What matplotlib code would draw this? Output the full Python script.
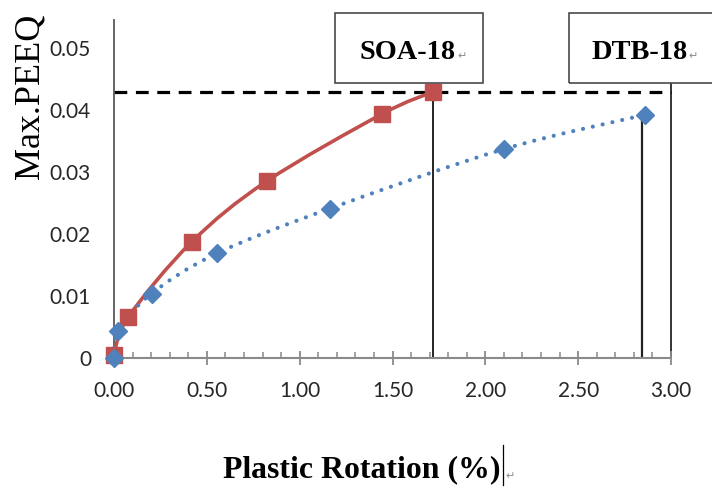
import numpy as np
import matplotlib
matplotlib.use("Agg")
import matplotlib.pyplot as plt
from matplotlib.path import Path
from matplotlib.patches import PathPatch, Rectangle
from matplotlib.lines import Line2D

# ---------------- data ----------------
soa_x = [0.0, 0.077, 0.418, 0.822, 1.441, 1.716]
soa_y = [0.0005, 0.0066, 0.0187, 0.0285, 0.0393, 0.0429]
dtb_x = [0.0, 0.023, 0.203, 0.556, 1.163, 2.102, 2.858]
dtb_y = [0.0, 0.0044, 0.0104, 0.0169, 0.0241, 0.0337, 0.0392]
limit_peeq = 0.0429          # horizontal dashed reference level
soa_limit_x = 1.716          # vertical guide for SOA-18
dtb_limit_x = 2.845          # vertical guide for DTB-18
right_guide_x = 3.0
right_guide_top = 0.0442
xticks = [0.0, 0.5, 1.0, 1.5, 2.0, 2.5, 3.0]
xticklabels = ["0.00", "0.50", "1.00", "1.50", "2.00", "2.50", "3.00"]
yticks = [0.0, 0.01, 0.02, 0.03, 0.04, 0.05]
yticklabels = ["0", "0.01", "0.02", "0.03", "0.04", "0.05"]
xlabel = "Plastic Rotation (%)"
ylabel = "Max.PEEQ"
box_labels = ["SOA-18", "DTB-18"]

RED = "#C0504D"
BLUE = "#4F81BD"
W, H = 712, 488


def fx(px):
    return px / W


def fy(py):
    return 1 - py / H


def smooth_path(xs, ys):
    """Excel-like smoothed line: cubic Bezier segments (Catmull-Rom tangents)."""
    P = np.column_stack([xs, ys])
    n = len(P)
    verts = [P[0]]
    codes = [Path.MOVETO]
    for i in range(n - 1):
        p0 = P[i - 1] if i > 0 else P[i]
        p1 = P[i]
        p2 = P[i + 1]
        p3 = P[i + 2] if i + 2 < n else P[i + 1]
        c1 = p1 + (p2 - p0) / 6.0
        c2 = p2 - (p3 - p1) / 6.0
        verts += [c1, c2, p2]
        codes += [Path.CURVE4] * 3
    return Path(np.array(verts), codes)


fig = plt.figure(figsize=(W / 100, H / 100), dpi=100)
ax = fig.add_axes([fx(114), fy(358), fx(671) - fx(114), (358 - 20) / H])
ax.set_xlim(0, 3.0)
ax.set_ylim(0, 0.0545)

for s in ["top", "right"]:
    ax.spines[s].set_visible(False)
ax.spines["left"].set_color("#595959")
ax.spines["left"].set_linewidth(1.3)
ax.spines["bottom"].set_color("#8a8a8a")
ax.spines["bottom"].set_linewidth(1.5)

ax.set_xticks(xticks)
ax.set_xticklabels(xticklabels)
ax.set_xticks(np.arange(0, 3.001, 0.1), minor=True)
ax.set_yticks(yticks)
ax.set_yticklabels(yticklabels)
ax.tick_params(axis="x", which="major", direction="inout", length=10, width=1.3,
               color="#8a8a8a", pad=11.5, labelsize=15)
ax.tick_params(axis="x", which="minor", direction="in", length=4.3, width=1.1,
               color="#8a8a8a")
ax.tick_params(axis="y", which="both", length=0, pad=16.5, labelsize=15)
for lab in ax.get_xticklabels() + ax.get_yticklabels():
    lab.set_fontfamily("Lato")
    lab.set_color("#262626")

# dashed reference level
ax.plot([0, right_guide_x], [limit_peeq, limit_peeq], color="black", lw=2.3,
        linestyle=(0, (4, 2.7)), zorder=2, clip_on=False)

# vertical guides
ax.plot([soa_limit_x, soa_limit_x], [0, limit_peeq], color="black", lw=1.2, zorder=1.5)
ax.plot([dtb_limit_x, dtb_limit_x], [0, dtb_y[-1]], color="#222222", lw=1.6, zorder=1.5)
ax.plot([right_guide_x, right_guide_x], [0, right_guide_top], color="black", lw=1.1,
        zorder=1.5, clip_on=False)

# smoothed lines
red_patch = PathPatch(smooth_path(soa_x, soa_y), fill=False, edgecolor=RED, lw=2.6,
                      zorder=3, clip_on=False)
ax.add_patch(red_patch)
blue_patch = PathPatch(smooth_path(dtb_x, dtb_y), fill=False, edgecolor=BLUE, lw=3.0,
                       linestyle=(0, (0.01, 2.4)), zorder=3.1, clip_on=False)
blue_patch.set_capstyle("round")
ax.add_patch(blue_patch)

# markers
ax.plot(soa_x, soa_y, linestyle="none", marker="s", ms=12, color=RED, zorder=4,
        clip_on=False)
ax.plot(dtb_x, dtb_y, linestyle="none", marker="D", ms=9.5, color=BLUE, zorder=5,
        clip_on=False)

# label boxes
boxes = [(335, 483, 408), (569, 716, 639.5)]
for (x0, x1, xc), lab in zip(boxes, box_labels):
    fig.add_artist(Rectangle((fx(x0), fy(83)), fx(x1) - fx(x0), (83 - 13) / H,
                             transform=fig.transFigure, fill=False,
                             edgecolor="#3a3a3a", lw=1.1, clip_on=False))
    fig.text(fx(xc), fy(59), lab, ha="center", va="baseline",
             family="Liberation Serif", fontweight="bold", fontsize=20.4,
             color="black")
    fig.text(fx(xc + 49), fy(59), "\u21b5", ha="left", va="baseline",
             family="DejaVu Sans", fontsize=8, color="#8c8c8c")

# axis titles
fig.text(fx(223), fy(477), xlabel, ha="left", va="baseline",
         family="Liberation Serif", fontweight="bold", fontsize=22.9, color="black")
fig.add_artist(Line2D([fx(503), fx(503)], [fy(485), fy(445)],
                      transform=fig.transFigure, color="black", lw=0.9))
fig.text(fx(505), fy(479), "\u21b5", ha="left", va="baseline",
         family="DejaVu Sans", fontsize=8, color="#8c8c8c")

fig.text(fx(30), fy(96.5), ylabel, rotation=90, ha="center", va="center",
         family="Liberation Serif", fontsize=26, color="black")

fig.savefig("out.png", dpi=100)
